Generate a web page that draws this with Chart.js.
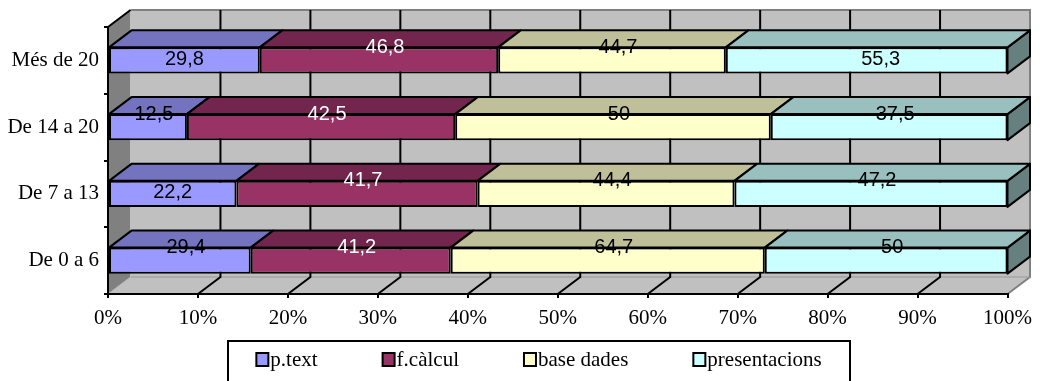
<!DOCTYPE html>
<html>
<head>
<meta charset="utf-8">
<script src="https://cdn.jsdelivr.net/npm/chart.js@4/dist/chart.umd.min.js"></script>
<style>
  html, body { margin: 0; padding: 0; background: #fff; }
  #wrap { width: 1040px; height: 381px; }
</style>
</head>
<body>
<div id="wrap"><canvas id="chart"></canvas></div>
<script>
// ===== DATA =====
const categories = ['De 0 a 6', 'De 7 a 13', 'De 14 a 20', 'Més de 20'];
const pText = [29.4, 22.2, 12.5, 29.8];
const fCalcul = [41.2, 41.7, 42.5, 46.8];
const baseDades = [64.7, 44.4, 50, 44.7];
const presentacions = [50, 47.2, 37.5, 55.3];

// depth of the 3d box in pixels
const DX = 22.5, DY = 17;
const SERIF = '"Liberation Serif", "Times New Roman", serif';
const SANS = '"Liberation Sans", Arial, sans-serif';

function shade(hex, f) {
  const n = parseInt(hex.slice(1), 16);
  const r = Math.round((n >> 16) * f), g = Math.round(((n >> 8) & 255) * f), b = Math.round((n & 255) * f);
  return `rgb(${r},${g},${b})`;
}

const series = [
  { label: 'p.text', values: pText, color: '#9999FF', text: '#000' },
  { label: 'f.càlcul', values: fCalcul, color: '#993366', text: '#fff' },
  { label: 'base dades', values: baseDades, color: '#FFFFCC', text: '#000' },
  { label: 'presentacions', values: presentacions, color: '#CCFFFF', text: '#000' }
];

// 100% stacked: each category is scaled to its own total
const totals = categories.map((_, i) => series.reduce((s, d) => s + d.values[i], 0));

// ===== 3D WALLS =====
const walls3d = {
  id: 'walls3d',
  beforeDraw(chart) {
    const { ctx, chartArea: a, scales: { x } } = chart;
    ctx.save();
    // left wall
    ctx.fillStyle = '#808080';
    ctx.beginPath();
    ctx.moveTo(a.left, a.top); ctx.lineTo(a.left + DX, a.top - DY);
    ctx.lineTo(a.left + DX, a.bottom - DY); ctx.lineTo(a.left, a.bottom);
    ctx.closePath(); ctx.fill();
    // floor
    ctx.fillStyle = '#C0C0C0';
    ctx.beginPath();
    ctx.moveTo(a.left, a.bottom); ctx.lineTo(a.left + DX, a.bottom - DY);
    ctx.lineTo(a.right + DX, a.bottom - DY); ctx.lineTo(a.right, a.bottom);
    ctx.closePath(); ctx.fill();
    // back wall
    ctx.fillRect(a.left + DX, a.top - DY, a.right - a.left, a.bottom - a.top);
    ctx.strokeStyle = '#808080'; ctx.lineWidth = 2;
    ctx.beginPath();
    ctx.moveTo(a.left + DX, a.top - DY); ctx.lineTo(a.right + DX, a.top - DY);
    ctx.lineTo(a.right + DX, a.bottom - DY); ctx.lineTo(a.right, a.bottom);
    ctx.stroke();
    ctx.lineWidth = 1; ctx.strokeStyle = '#999';
    ctx.beginPath();
    ctx.moveTo(a.left + DX, a.bottom - DY); ctx.lineTo(a.right + DX, a.bottom - DY);
    ctx.stroke();
    ctx.strokeStyle = '#b0b0b0';
    ctx.beginPath();
    ctx.moveTo(a.left, a.bottom); ctx.lineTo(a.left + DX, a.bottom - DY);
    ctx.stroke();
    // gridlines on back wall and floor
    ctx.strokeStyle = '#000'; ctx.lineWidth = 2;
    x.ticks.forEach(t => {
      if (t.value <= x.min || t.value >= x.max) return;
      const px = x.getPixelForValue(t.value);
      ctx.beginPath();
      ctx.moveTo(px + DX, a.top - DY); ctx.lineTo(px + DX, a.bottom - DY);
      ctx.lineTo(px, a.bottom);
      ctx.stroke();
    });
    // top edge of left wall
    ctx.beginPath();
    ctx.moveTo(a.left, a.top); ctx.lineTo(a.left + DX, a.top - DY);
    ctx.stroke();
    ctx.restore();
  },
  // top and side faces of the bars, drawn before the front faces
  beforeDatasetsDraw(chart) {
    const ctx = chart.ctx;
    const last = chart.data.datasets.length - 1;
    ctx.save();
    ctx.strokeStyle = '#000'; ctx.lineWidth = 2; ctx.lineJoin = 'round';
    chart.data.datasets.forEach((ds, i) => {
      chart.getDatasetMeta(i).data.forEach(bar => {
        const { x, y, base, height } = bar.getProps(['x', 'y', 'base', 'height'], true);
        const top = y - height / 2, bottom = y + height / 2;
        if (i === last) {
          ctx.fillStyle = shade(ds.backgroundColor, 0.5);
          ctx.beginPath();
          ctx.moveTo(x, top); ctx.lineTo(x + DX, top - DY);
          ctx.lineTo(x + DX, bottom - DY); ctx.lineTo(x, bottom);
          ctx.closePath(); ctx.fill(); ctx.stroke();
        }
        ctx.fillStyle = shade(ds.backgroundColor, 0.75);
        ctx.beginPath();
        ctx.moveTo(base, top); ctx.lineTo(base + DX, top - DY);
        ctx.lineTo(x + DX, top - DY); ctx.lineTo(x, top);
        ctx.closePath(); ctx.fill(); ctx.stroke();
      });
    });
    ctx.restore();
  }
};

// ===== VALUE LABELS =====
// most labels sit on the top edge of the front face; the ones listed in
// onFace are centred on the face, with their own horizontal nudge
const valueLabels = {
  id: 'valueLabels',
  afterDatasetsDraw(chart, args, opts) {
    const ctx = chart.ctx;
    ctx.save();
    ctx.font = '20px ' + SANS;
    ctx.textAlign = 'center';
    ctx.textBaseline = 'middle';
    chart.data.datasets.forEach((ds, i) => {
      chart.getDatasetMeta(i).data.forEach((bar, j) => {
        const { x, y, base, height } = bar.getProps(['x', 'y', 'base', 'height'], true);
        const nudge = opts.onFace[i + ':' + j];
        const onFace = nudge !== undefined;
        const cx = (x + base) / 2 + (onFace ? nudge : 6);
        const cy = onFace ? y - 1 : y - height / 2;
        ctx.fillStyle = ds.labelColor;
        ctx.fillText(String(ds.raw[j]).replace('.', ','), cx, cy);
      });
    });
    ctx.restore();
  }
};

// ===== LEGEND =====
const boxLegend = {
  id: 'boxLegend',
  afterDraw(chart, args, opts) {
    const ctx = chart.ctx;
    ctx.save();
    ctx.font = '21px ' + SERIF;
    const items = chart.data.datasets.map(ds => ({
      text: ds.label, color: ds.backgroundColor, w: ctx.measureText(ds.label).width
    }));
    const mk = 12, gap = 2, spacing = 65;
    const total = items.reduce((s, it) => s + mk + gap + it.w, 0) + spacing * (items.length - 1);
    const b = opts.box;
    ctx.strokeStyle = '#000'; ctx.lineWidth = 2;
    ctx.strokeRect(b.left, b.top, b.right - b.left, 80);
    let px = (b.left + b.right) / 2 - total / 2;
    const cy = b.top + 18;
    ctx.textBaseline = 'middle';
    items.forEach(it => {
      ctx.fillStyle = it.color;
      ctx.fillRect(px, cy - mk / 2, mk, mk + 1);
      ctx.strokeRect(px, cy - mk / 2, mk, mk + 1);
      ctx.fillStyle = '#000';
      ctx.fillText(it.text, px + mk + gap, cy + 1);
      px += mk + gap + it.w + spacing;
    });
    ctx.restore();
  }
};

new Chart(document.getElementById('chart').getContext('2d'), {
  type: 'bar',
  data: {
    labels: categories,
    datasets: series.map(s => ({
      label: s.label,
      raw: s.values,
      data: s.values.map((v, i) => v / totals[i] * 100),
      backgroundColor: s.color,
      labelColor: s.text,
      borderColor: '#000',
      borderWidth: 2,
      borderSkipped: false,
      categoryPercentage: 1,
      barPercentage: 0.39
    }))
  },
  options: {
    indexAxis: 'y',
    responsive: true,
    maintainAspectRatio: false,
    animation: false,
    layout: { padding: { top: 27, right: 32, bottom: 51, left: 0 } },
    plugins: {
      legend: { display: false },
      tooltip: { enabled: false },
      valueLabels: { onFace: { '0:3': 0, '3:3': 14, '0:1': 0 } },
      boxLegend: { box: { left: 228, right: 850, top: 341 } }
    },
    scales: {
      x: {
        stacked: true, min: 0, max: 100,
        afterFit: s => { s.height = 36; },
        grid: { drawOnChartArea: false, tickLength: 4, color: '#000', lineWidth: 2 },
        border: { color: '#000', width: 2 },
        ticks: {
          stepSize: 10, padding: 8, color: '#000',
          font: { family: SERIF, size: 21 },
          callback: v => v + '%'
        }
      },
      y: {
        stacked: true, reverse: true,
        afterFit: s => { s.width = 108; },
        grid: { drawOnChartArea: false, tickLength: 4, color: '#000', lineWidth: 2 },
        border: { color: '#000', width: 2 },
        ticks: { padding: 5, color: '#000', font: { family: SERIF, size: 21 } }
      }
    }
  },
  plugins: [walls3d, valueLabels, boxLegend]
});
</script>
</body>
</html>
